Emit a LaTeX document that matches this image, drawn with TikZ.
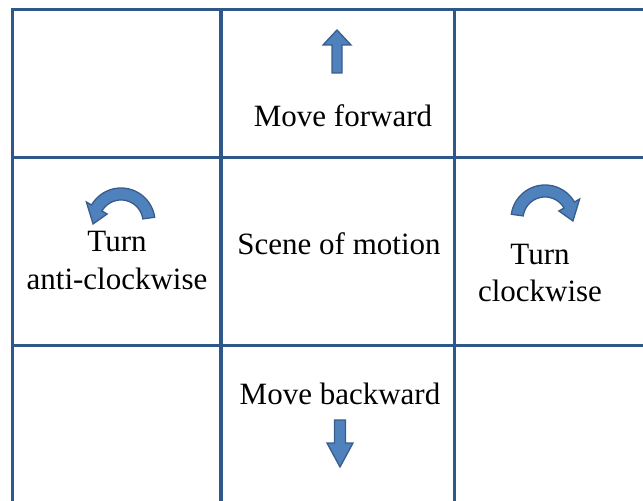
\documentclass[tikz,border=0pt]{standalone}
\usepackage{fontspec}
\setmainfont{Liberation Serif}
\definecolor{gridblue}{RGB}{46,88,138}
\definecolor{arrowfill}{RGB}{79,129,189}
\definecolor{arrowline}{RGB}{56,93,138}
\tikzset{
  gridline/.style={draw=gridblue, line width=3.2bp},
  blockarrow/.style={fill=arrowfill, draw=arrowline, line width=1.3bp, line join=miter},
  label/.style={font=\fontsize{31bp}{37bp}\selectfont, align=center, anchor=base, inner sep=0pt}
}
\begin{document}
\begin{tikzpicture}[x=1bp,y=-1bp]
\useasboundingbox (0,0) rectangle (643,501);
% grid
\draw[gridline] (12.7,501) -- (12.7,9.5) -- (643,9.5);
\draw[gridline] (221,9.5) -- (221,501);
\draw[gridline] (454.5,9.5) -- (454.5,501);
\draw[gridline] (12.7,157.5) -- (643,157.5);
\draw[gridline] (12.7,345.7) -- (643,345.7);
% labels
\node[label] (fwd) at (343,127) {Move forward};
\node[label] (acw) at (117,289) {Turn\\anti-clockwise};
\node[label] (scene) at (339,255) {Scene of motion};
\node[label] (cw) at (540,301) {Turn\\clockwise};
\node[label] (bwd) at (340,404) {Move backward};
% up arrow
\filldraw[blockarrow] (337,30) -- (351,45) -- (342,45) -- (342,73) -- (332,73) -- (332,45) -- (323,45) -- cycle;
% down arrow
\filldraw[blockarrow] (340,467) -- (353,443) -- (345.5,443) -- (345.5,420) -- (334.5,420) -- (334.5,443) -- (327,443) -- cycle;
% anti-clockwise curved arrow
\def\cx{121}\def\cy{222}
\filldraw[blockarrow] plot[domain=8:150,samples=40] ({\cx+34*cos(\x)},{\cy-34*sin(\x)})
  -- ({\cx+40*cos(150)},{\cy-40*sin(150)})
  -- ({\cx+28*cos(184)},{\cy-28*sin(184)})
  -- ({\cx+16*cos(150)},{\cy-16*sin(150)})
  -- plot[domain=150:8,samples=40] ({\cx+22*cos(\x)},{\cy-22*sin(\x)})
  -- cycle;
% clockwise curved arrow
\def\cx{545}\def\cy{219}
\filldraw[blockarrow] plot[domain=172:30,samples=40] ({\cx+34*cos(\x)},{\cy-34*sin(\x)})
  -- ({\cx+40*cos(30)},{\cy-40*sin(30)})
  -- ({\cx+28*cos(-4)},{\cy-28*sin(-4)})
  -- ({\cx+16*cos(30)},{\cy-16*sin(30)})
  -- plot[domain=30:172,samples=40] ({\cx+22*cos(\x)},{\cy-22*sin(\x)})
  -- cycle;
\end{tikzpicture}
\end{document}
